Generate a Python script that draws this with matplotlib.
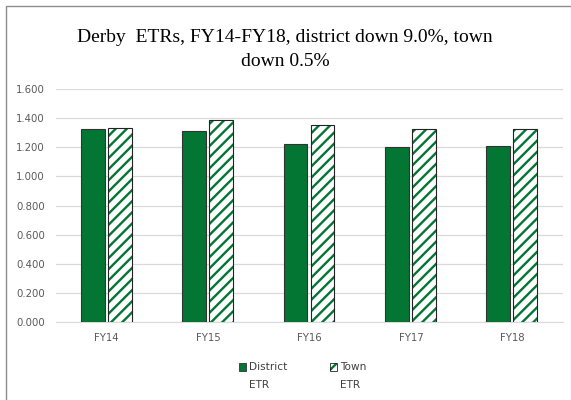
import matplotlib.pyplot as plt
import numpy as np
from matplotlib.patches import Rectangle

years = ["FY14", "FY15", "FY16", "FY17", "FY18"]
district_etr = [1.325, 1.310, 1.222, 1.200, 1.206]
town_etr = [1.332, 1.387, 1.353, 1.325, 1.325]
yticks = [0.0, 0.2, 0.4, 0.6, 0.8, 1.0, 1.2, 1.4, 1.6]

green = "#037634"
tick_grey = "#595959"

plt.rcParams['hatch.linewidth'] = 1.7

W, H = 571, 400
fig = plt.figure(figsize=(W / 100, H / 100), dpi=100)
ax = fig.add_axes([56 / W, 1 - 322 / H, (563 - 56) / W, (322 - 89) / H])

x = np.arange(len(years))
bw = 0.235
ax.bar(x - 0.138, district_etr, bw, color=green, edgecolor="#333333", linewidth=0.8, zorder=3)
# hatch takes the edge colour, so the stripes and the dark outline are two layers
ax.bar(x + 0.128, town_etr, bw, color="white", edgecolor=green, hatch="///", linewidth=0, zorder=3)
ax.bar(x + 0.128, town_etr, bw, fill=False, edgecolor="#222222", linewidth=0.8, zorder=4)

ax.set_xlim(-0.5, len(years) - 0.5)
ax.set_ylim(0, 1.6)
ax.set_yticks(yticks)
ax.set_yticklabels([f"{v:.3f}" for v in yticks])
ax.set_xticks(x)
ax.set_xticklabels(years)
ax.tick_params(length=0, labelsize=7.3, labelcolor=tick_grey, pad=8)
ax.tick_params(axis="y", pad=8)
ax.grid(axis="y", color="#d9d9d9", linewidth=0.9, zorder=0)
for s in ["top", "right", "left"]:
    ax.spines[s].set_visible(False)
ax.spines["bottom"].set_color("#d9d9d9")

fig.text(285 / W, 1 - 37 / H, "Derby  ETRs, FY14-FY18, district down 9.0%, town",
         ha="center", va="center", fontsize=14, family="Liberation Serif")
fig.text(285 / W, 1 - 62 / H, "down 0.5%",
         ha="center", va="center", fontsize=14, family="Liberation Serif")

# legend drawn by hand so the wrapped labels sit like the original
fig.patches.append(Rectangle((239 / W, 1 - 371 / H), 7 / W, 8 / H, transform=fig.transFigure,
                             facecolor=green, edgecolor="#333333", linewidth=0.6))
fig.patches.append(Rectangle((330 / W, 1 - 371 / H), 7 / W, 8 / H, transform=fig.transFigure,
                             facecolor="white", edgecolor=green, hatch="/", linewidth=0))
fig.patches.append(Rectangle((330 / W, 1 - 371 / H), 7 / W, 8 / H, transform=fig.transFigure,
                             fill=False, edgecolor="#222222", linewidth=0.6))
for xl, lab in [(249, "District"), (340, "Town")]:
    fig.text(xl / W, 1 - 367 / H, lab, ha="left", va="center", fontsize=7.6, color="#404040")
    fig.text(xl / W, 1 - 385 / H, "ETR", ha="left", va="center", fontsize=7.6, color="#404040")

# outer chart border (top and left visible)
fig.patches.append(Rectangle((6 / W, -0.1), 1.2, 1 - 6 / H + 0.1, transform=fig.transFigure,
                             fill=False, edgecolor="#8c8c8c", linewidth=1.0))

fig.savefig("out.png", dpi=100)
